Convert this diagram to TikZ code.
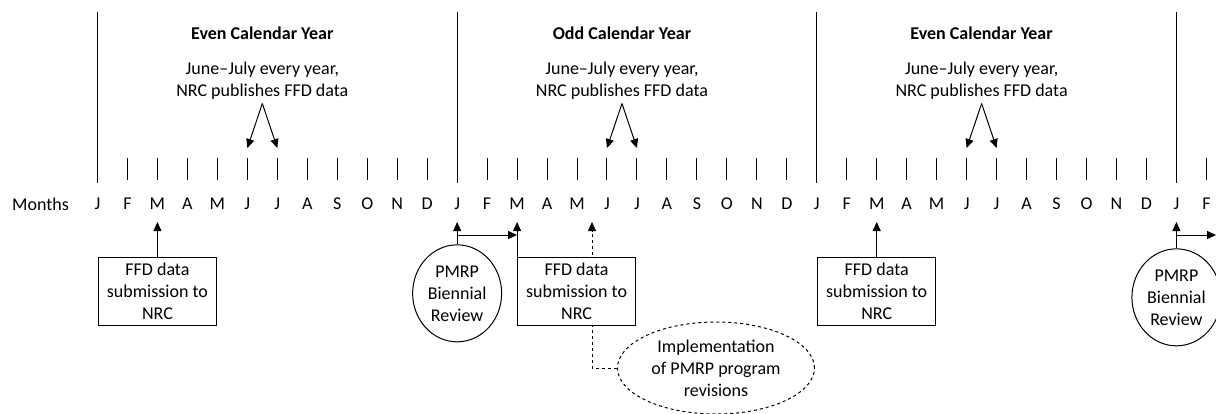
\documentclass[tikz,border=0pt]{standalone}
\usepackage{fontspec}
\setmainfont{Carlito}
\usetikzlibrary{positioning,shapes.geometric,arrows.meta,calc,backgrounds}

\begin{document}
\begin{tikzpicture}[x=1pt,y=-1pt,line width=1pt,>={Triangle[width=8pt,length=9pt]},
   every node/.style={font=\fontsize{18}{22}\selectfont},
   mon/.style={inner sep=0pt},
   subbox/.style={draw,fill=white,rectangle,minimum width=118pt,minimum height=68pt,align=center,inner sep=2pt},
   review/.style={draw,fill=white,ellipse,minimum width=89pt,minimum height=97pt,align=center,inner sep=0pt},
   plan/.style={draw,dashed,ellipse,minimum width=197pt,minimum height=92pt,align=center,inner sep=0pt}]

   \useasboundingbox (0,0) rectangle (1216,413);
   \clip (0,0) rectangle (1216,413);

   \node (months) at (40.5,204) {Months};
   \foreach \l [count=\i from 0] in {J,F,M,A,M,J,J,A,S,O,N,D,J,F,M,A,M,J,J,A,S,O,N,D,J,F,M,A,M,J,J,A,S,O,N,D,J,F}
      \node[mon] (m\i) at ({97.5+29.97*\i},204) {\l};

   \foreach \i in {0,...,37}{
      \pgfmathtruncatemacro\r{mod(\i,12)}
      \ifnum\r=0
         \draw ([yshift=192pt]m\i.center) -- ([yshift=21pt]m\i.center);
      \else
         \draw ([yshift=46pt]m\i.center) -- ([yshift=24pt]m\i.center);
      \fi
   }

   \foreach \k/\yr in {0/Even,1/Odd,2/Even}{
      \pgfmathtruncatemacro\jun{12*\k+5}
      \pgfmathtruncatemacro\jul{12*\k+6}
      \node[font=\fontsize{18}{22}\selectfont\bfseries] (yr\k) at ({97.5+29.97*(12*\k+5.5)},33) {\yr{} Calendar Year};
      \node[align=center] (pub\k) at ({97.5+29.97*(12*\k+5.5)},81) {June--July every year,\\NRC publishes FFD data};
      \path[->] (pub\k.south) edge ([yshift=56pt]m\jun.center)
                (pub\k.south) edge ([yshift=56pt]m\jul.center);
   }

   \node[subbox,below=47pt of m2] (sub0) {FFD data\\submission to\\NRC};
   \node[subbox,below right=47pt and 0pt of m14.south] (sub1) {FFD data\\submission to\\NRC};
   \node[subbox,below=47pt of m26] (sub2) {FFD data\\submission to\\NRC};
   \node[review,below=34pt of m12] (rev0) {PMRP\\Biennial\\Review};
   \node[review,below=38pt of m36] (rev1) {PMRP\\Biennial\\Review};
   \node[plan] (impl) at (716,368) {Implementation\\of PMRP program\\revisions};
   \coordinate (rend) at (1216,235);

   \path[->]
   (sub0) edge ([yshift=-18pt]m2.center)
   (sub1.north west) edge ([yshift=-18pt]m14.center)
   (sub2) edge ([yshift=-18pt]m26.center)
   (rev0) edge ([yshift=-18pt]m12.center)
   ([yshift=-31pt]m12.center) edge ([yshift=-31pt]m14.center)
   (rev1) edge ([yshift=-18pt]m36.center)
   ([yshift=-31pt]m36.center) edge (rend);

   \begin{scope}[on background layer]
      \draw[dashed,->] (impl.west) -| ([yshift=-18pt]$(m16)!0.5!(m17)$);
   \end{scope}
\end{tikzpicture}
\end{document}
